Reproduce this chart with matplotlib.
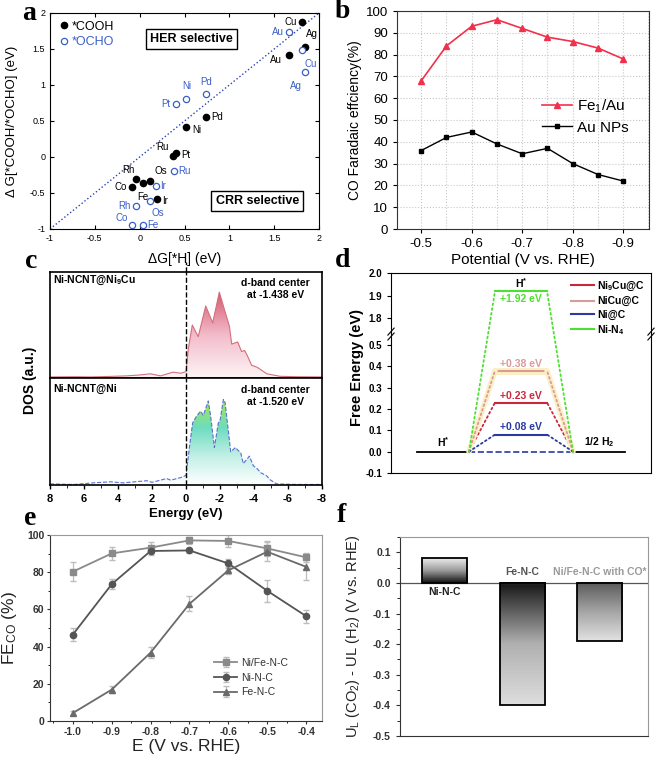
import numpy as np
import matplotlib
matplotlib.use('Agg')
import matplotlib.pyplot as plt
from matplotlib.colors import LinearSegmentedColormap
from matplotlib.patches import Polygon, ConnectionPatch
from matplotlib.lines import Line2D
from matplotlib.ticker import MultipleLocator, FormatStrFormatter

plt.rcParams['font.family'] = ['Liberation Sans', 'DejaVu Sans']
plt.rcParams['axes.unicode_minus'] = False
plt.rcParams['mathtext.default'] = 'regular'

# ---- panel a: scaling relation
cooh_metal = ['Cu', 'Ag', 'Au', 'Pd', 'Ni', 'Ru', 'Pt', 'Rh', 'Os', 'Fe', 'Co', 'Ir']
cooh_h = [1.81, 1.84, 1.66, 0.74, 0.52, 0.37, 0.40, -0.04, 0.12, 0.04, -0.08, 0.19]
cooh_g = [1.87, 1.53, 1.42, 0.56, 0.41, 0.01, 0.05, -0.30, -0.33, -0.36, -0.42, -0.59]
ocho_metal = ['Au', 'Cu', 'Ag', 'Pd', 'Ni', 'Pt', 'Ru', 'Ir', 'Os', 'Rh', 'Co', 'Fe']
ocho_h = [1.67, 1.81, 1.84, 0.74, 0.52, 0.41, 0.38, 0.18, 0.12, -0.04, -0.08, 0.04]
ocho_g = [1.73, 1.49, 1.18, 0.87, 0.81, 0.74, -0.19, -0.40, -0.61, -0.68, -0.95, -0.94]
a_ticks = [-1, -0.5, 0, 0.5, 1, 1.5, 2]
a_ticklabels = ['-1', '-0.5', '0', '0.5', '1', '1.5', '2']

# ---- panel b: CO FE
pot_b = [-0.5, -0.55, -0.6, -0.65, -0.7, -0.75, -0.8, -0.85, -0.9]
fe1_au = [68, 84, 93, 96, 92, 88, 86, 83, 78]
au_nps = [36, 42, 44.5, 39, 34.5, 37, 30, 25, 22]

# ---- panel c: DOS
top_e = [8.0, 6.5, 5.6, 4.5, 3.5, 2.6, 2.1, 1.5, 0.76, 0.3, 0.0, -0.14, -0.37, -0.72, -1.16,
         -1.57, -1.96, -2.29, -2.55, -2.69, -3.04, -3.27, -3.45, -3.61, -3.86, -4.2, -4.75,
         -5.53, -6.5, -8.0]
top_dos = [0.01, 0.012, 0.01, 0.015, 0.02, 0.03, 0.04, 0.02, 0.055, 0.045, 0.06, 0.28, 0.50,
           0.39, 0.68, 0.52, 0.81, 0.63, 0.49, 0.32, 0.34, 0.25, 0.26, 0.21, 0.12, 0.10, 0.04,
           0.016, 0.012, 0.01]
bot_e = [8.0, 6.6, 5.45, 4.47, 3.7, 2.3, 2.0, 1.14, 0.9, 0.3, 0.0, -0.24, -0.39, -0.63, -0.86,
         -1.02, -1.31, -1.45, -1.67, -1.9, -2.0, -2.2, -2.3, -2.63, -2.9, -3.22, -3.37, -3.73,
         -3.96, -4.2, -4.39, -4.75, -4.94, -5.33, -6.5, -8.0]
bot_dos = [0.01, 0.005, 0.02, 0.03, 0.02, 0.04, 0.025, 0.06, 0.045, 0.07, 0.09, 0.40, 0.58,
           0.645, 0.69, 0.65, 0.785, 0.645, 0.35, 0.58, 0.60, 0.80, 0.77, 0.31, 0.35, 0.30,
           0.20, 0.27, 0.18, 0.15, 0.115, 0.085, 0.05, 0.01, 0.005, 0.005]

# ---- panel d: free energy of H*
d_names = ['Ni$_9$Cu@C', 'NiCu@C', 'Ni@C', 'Ni-N$_4$']
d_dg = [0.23, 0.38, 0.08, 1.92]
d_colors = ['#c8283c', '#d99a9a', '#2a3aa0', '#4ee030']

# ---- panel e: FE_CO
pot_e = [-1.0, -0.9, -0.8, -0.7, -0.6, -0.5, -0.4]
nife = [80.3, 90.1, 93.2, 97.1, 96.8, 92.8, 88.0]
nife_err = [5, 3.5, 3, 2, 3, 4, 2.5]
ninc = [46.5, 73.6, 91.4, 91.7, 84.7, 70.0, 56.4]
ninc_err = [3.5, 2.5, 2, 1.5, 2.5, 6, 3.5]
fenc = [4.3, 16.9, 36.8, 63.0, 81.0, 91.0, 82.9]
fenc_err = [1, 2, 3, 4, 2, 5, 7]

# ---- panel f: limiting potential difference
f_cat = ['Ni-N-C', 'Fe-N-C', 'Ni/Fe-N-C with CO*']
f_val = [0.08, -0.40, -0.19]

fig = plt.figure(figsize=(6.56, 7.6), dpi=100)


def fa(l, t, r, b):
    return fig.add_axes([l / 656, 1 - b / 760, (r - l) / 656, (b - t) / 760])


def bold_ticks(ax):
    for lb in ax.get_xticklabels() + ax.get_yticklabels():
        lb.set_fontweight('bold')


# ================= a
ax = fa(50, 13, 319, 229)
ax.plot([-1, 2], [-1, 2], ls=':', color='#2b45b0', lw=1)
ax.plot(cooh_h, cooh_g, 'o', color='black', ms=4.5, label='*COOH')
ax.plot(ocho_h, ocho_g, 'o', mfc='white', mec='#3a5fc8', mew=0.9, ms=4.5, label='*OCHO')
cooh_off = [(-4, 0, 'right'), (5, 9, 'center'), (-5, -4, 'right'), (4, 0, 'left'),
            (4, -2, 'left'), (-3, 7, 'right'), (4, -1, 'left'), (-1, 6, 'right'),
            (3, 7, 'left'), (0, -10, 'center'), (-4, 0, 'right'), (4, -1, 'left')]
ocho_off = [(-4, 0, 'right'), (6, -10, 'center'), (-6, -10, 'center'), (0, 9, 'center'),
            (0, 9, 'center'), (-4, 0, 'right'), (3, 0, 'left'), (3, 0, 'left'),
            (5, -9, 'center'), (-4, 0, 'right'), (-3, 5, 'right'), (3, 0, 'left')]
for m, x, y, (dx, dy, ha) in zip(cooh_metal, cooh_h, cooh_g, cooh_off):
    ax.annotate(m, (x, y), xytext=(dx, dy), textcoords='offset points', ha=ha, va='center',
                fontsize=7, color='black')
for m, x, y, (dx, dy, ha) in zip(ocho_metal, ocho_h, ocho_g, ocho_off):
    ax.annotate(m, (x, y), xytext=(dx, dy), textcoords='offset points', ha=ha, va='center',
                fontsize=7, color='#3a5fc8')
ax.text(0.58, 1.64, 'HER selective', fontweight='bold', fontsize=9, ha='center', va='center',
        bbox=dict(boxstyle='square,pad=0.35', fc='white', ec='black', lw=1))
ax.text(1.31, -0.61, 'CRR selective', fontweight='bold', fontsize=9, ha='center', va='center',
        bbox=dict(boxstyle='square,pad=0.35', fc='white', ec='black', lw=1))
ax.set_xlim(-1, 2)
ax.set_ylim(-1, 2)
ax.set_xticks(a_ticks, a_ticklabels)
ax.set_yticks(a_ticks, a_ticklabels)
ax.tick_params(direction='in', top=True, right=True, labelsize=6.5, length=3)
ax.legend(loc='upper left', frameon=False, fontsize=9, handletextpad=0.1, handlelength=1,
          borderaxespad=0.2, labelspacing=0.3, labelcolor=['black', '#3a5fc8'])
ax.set_xlabel('ΔG[*H] (eV)', fontsize=10)
ax.xaxis.set_label_coords(0.5, -0.105)
ax.set_ylabel('Δ G[*COOH/*OCHO] (eV)', fontsize=9.5)
ax.yaxis.set_label_coords(-0.12, 0.5)

# ================= b
ax = fa(397, 11, 649, 229)
ax.plot(pot_b, fe1_au, '-^', color='#f2304c', ms=4, lw=1.2, label='Fe$_1$/Au')
ax.plot(pot_b, au_nps, '-s', color='black', ms=3.2, lw=1, label='Au NPs')
ax.set_xlim(-0.452, -0.951)
ax.set_ylim(0, 100)
ax.set_xticks([-0.5, -0.6, -0.7, -0.8, -0.9])
ax.xaxis.set_minor_locator(MultipleLocator(0.05))
ax.set_yticks(range(0, 101, 10))
ax.grid(True, which='both', ls=':', color='#c8c8c8', lw=0.8)
ax.tick_params(which='minor', length=0)
ax.tick_params(labelsize=9.5, length=3)
for s in ax.spines.values():
    s.set_color('#333333')
ax.legend(loc='upper left', bbox_to_anchor=(0.52, 0.665), frameon=False, fontsize=11,
          handlelength=2.0, handletextpad=0.3, labelspacing=0.35)
ax.set_xlabel('Potential (V vs. RHE)', fontsize=11)
ax.xaxis.set_label_coords(0.5, -0.11)
ax.set_ylabel('CO Faradaic effciency(%)', fontsize=10)
ax.yaxis.set_label_coords(-0.14, 0.5)

# ================= c
axc_t = fa(50, 272, 322, 378)
axc_b = fa(50, 378, 322, 485)


def dos_panel(ax, e, d, cols, lc, ls):
    cmap = LinearSegmentedColormap.from_list('g', cols)
    im = ax.imshow(np.linspace(0, 1, 256).reshape(-1, 1), cmap=cmap, origin='lower',
                   aspect='auto', extent=[8, -8, 0, max(d)], zorder=1)
    patch = Polygon(np.column_stack([e + [e[-1], e[0]], d + [0, 0]]), closed=True,
                    fc='none', ec='none')
    ax.add_patch(patch)
    im.set_clip_path(patch)
    ax.plot(e, d, color=lc, lw=0.8, ls=ls, zorder=2)
    ax.set_xlim(8, -8)
    ax.set_ylim(0, 1)
    ax.set_yticks([])
    ax.axvline(0, color='black', ls='--', lw=1, zorder=3)
    for s in ax.spines.values():
        s.set_linewidth(1.2)


dos_panel(axc_t, top_e, top_dos, ['#fdf4f6', '#f3bccb', '#d65a70'], '#d4707c', '-')
dos_panel(axc_b, bot_e, bot_dos, ['#ffffff', '#c2f0e6', '#6edcc0', '#a2e84a'], '#5a6fd0', '--')
axc_t.plot([0, 0], [1, 1.09], color='black', ls='--', lw=1, clip_on=False)
axc_t.set_xticks([])
axc_b.set_xticks(range(8, -9, -2))
axc_b.xaxis.set_minor_locator(MultipleLocator(1))
axc_b.tick_params(labelsize=8, length=3, width=1)
axc_b.tick_params(which='minor', length=2)
bold_ticks(axc_b)
axc_t.text(0.012, 0.92, 'Ni-NCNT@Ni$_9$Cu', transform=axc_t.transAxes, fontsize=7.5,
           fontweight='bold', va='center')
axc_t.text(0.83, 0.84, 'd-band center\nat -1.438 eV', transform=axc_t.transAxes, fontsize=7.5,
           fontweight='bold', va='center', ha='center', linespacing=1.3)
axc_b.text(0.012, 0.9, 'Ni-NCNT@Ni', transform=axc_b.transAxes, fontsize=7.5,
           fontweight='bold', va='center')
axc_b.text(0.83, 0.83, 'd-band center\nat -1.520 eV', transform=axc_b.transAxes, fontsize=7.5,
           fontweight='bold', va='center', ha='center', linespacing=1.3)
axc_b.set_xlabel('Energy (eV)', fontsize=9.5, fontweight='bold')
axc_b.xaxis.set_label_coords(0.5, -0.215)
fig.text(30 / 656, 1 - 380 / 760, 'DOS (a.u.)', rotation=90, fontsize=10, fontweight='bold',
         ha='center', va='center')

# ================= d
axd_hi = fa(391, 273, 651, 333)
axd_lo = fa(391, 333, 651, 473)
axd_hi.set_ylim(1.736, 2.0)
axd_lo.set_ylim(-0.1, 0.556)
for a in (axd_hi, axd_lo):
    a.set_xlim(0, 10)
    a.set_xticks([])
    a.yaxis.set_major_formatter(FormatStrFormatter('%.1f'))
    a.tick_params(labelsize=7, length=3)
axd_hi.set_yticks([1.8, 1.9, 2.0])
axd_lo.set_yticks([-0.1, 0.0, 0.1, 0.2, 0.3, 0.4, 0.5])
bold_ticks(axd_hi)
bold_ticks(axd_lo)
axd_hi.spines['bottom'].set_visible(False)
axd_lo.spines['top'].set_visible(False)
axd_lo.plot([1, 3], [0, 0], color='black', lw=1.3)
axd_lo.plot([7, 9], [0, 0], color='black', lw=1.3)
axd_lo.plot([3, 7], [0, 0], color=d_colors[2], ls='--', lw=1.2)
for name, val, col in zip(d_names, d_dg, d_colors):
    tgt = axd_hi if val > 1 else axd_lo
    if name == 'NiCu@C':
        tgt.plot([4, 6], [val, val], color='#fcefc4', lw=5, solid_capstyle='butt')
    tgt.plot([4, 6], [val, val], color=col, lw=1.5)
    for xa, ya, xb, yb in [(3, 0, 4, val), (7, 0, 6, val)]:
        if name == 'NiCu@C':
            fig.add_artist(ConnectionPatch(xyA=(xa, ya), coordsA=axd_lo.transData, xyB=(xb, yb),
                                           coordsB=tgt.transData, color='#fcefc4', lw=4))
        fig.add_artist(ConnectionPatch(xyA=(xa, ya), coordsA=axd_lo.transData, xyB=(xb, yb),
                                       coordsB=tgt.transData, color=col, lw=1.3, ls=':'))
axd_hi.text(5, 1.954, 'H$^{*}$', ha='center', va='center', fontsize=7.5, fontweight='bold')
axd_hi.text(5, 1.885, '+%.2f eV' % d_dg[3], ha='center', va='center', fontsize=7.5,
            fontweight='bold', color=d_colors[3])
axd_lo.text(5, d_dg[1] + 0.03, '+%.2f eV' % d_dg[1], ha='center', va='center', fontsize=7.5,
            fontweight='bold', color=d_colors[1])
axd_lo.text(5, d_dg[0] + 0.03, '+%.2f eV' % d_dg[0], ha='center', va='center', fontsize=7.5,
            fontweight='bold', color=d_colors[0])
axd_lo.text(5, d_dg[2] + 0.035, '+%.2f eV' % d_dg[2], ha='center', va='center', fontsize=7.5,
            fontweight='bold', color=d_colors[2])
axd_lo.text(2, 0.045, 'H$^{*}$', ha='center', va='center', fontsize=7.5, fontweight='bold')
axd_lo.text(8, 0.045, '1/2 H$_2$', ha='center', va='center', fontsize=7.5, fontweight='bold')
for x in (0, 1):
    for off in (-0.035, 0.0):
        axd_lo.plot([x - 0.012, x + 0.012], [1 + off - 0.015, 1 + off + 0.035],
                    transform=axd_lo.transAxes, clip_on=False, color='black', lw=0.8)
handles = [Line2D([], [], color=c, lw=1.5) for c in d_colors]
fig.legend(handles, d_names, loc='upper left', bbox_to_anchor=(571 / 656, 1 - 280 / 760),
           frameon=False, prop={'weight': 'bold', 'size': 7.5}, handlelength=2.2,
           handletextpad=0.3, labelspacing=0.3, borderpad=0, borderaxespad=0)
fig.text(357 / 656, 1 - 367 / 760, 'Free Energy (eV)', rotation=90, fontsize=10.5,
         fontweight='bold', ha='center', va='center')

# ================= e
ax = fa(50, 535, 322, 721)
ax.errorbar(pot_e, nife, yerr=nife_err, fmt='-s', color='#8a8a8a', ecolor='#bdbdbd', ms=4.5,
            lw=1.3, capsize=2, elinewidth=0.9, label='Ni/Fe-N-C')
ax.errorbar(pot_e, ninc, yerr=ninc_err, fmt='-o', color='#555555', ecolor='#bdbdbd', ms=4.5,
            lw=1.3, capsize=2, elinewidth=0.9, label='Ni-N-C')
ax.errorbar(pot_e, fenc, yerr=fenc_err, fmt='-^', color='#6a6a6a', ecolor='#bdbdbd', ms=4.5,
            lw=1.3, capsize=2, elinewidth=0.9, label='Fe-N-C')
ax.set_xlim(-1.059, -0.359)
ax.set_ylim(0, 100)
ax.set_xticks(pot_e)
ax.xaxis.set_major_formatter(FormatStrFormatter('%.1f'))
ax.xaxis.set_minor_locator(MultipleLocator(0.05))
ax.set_yticks(range(0, 101, 20))
ax.yaxis.set_minor_locator(MultipleLocator(10))
ax.tick_params(labelsize=7.5, length=2.5, pad=1.5, colors='#333333')
ax.tick_params(which='minor', length=1.5)
bold_ticks(ax)
ax.spines['left'].set_color('#333333')
ax.spines['bottom'].set_color('#333333')
ax.spines['top'].set_color('#999999')
ax.spines['right'].set_color('#999999')
ax.legend(loc='upper left', bbox_to_anchor=(0.57, 0.39), frameon=False, fontsize=7.5,
          handlelength=2.2, handletextpad=0.4, labelspacing=0.45, labelcolor='#333333')
ax.set_xlabel('E (V vs. RHE)', fontsize=12.5, color='#222222')
ax.xaxis.set_label_coords(0.5, -0.095)
ax.set_ylabel('FE$_{CO}$ (%)', fontsize=12.5, color='#222222')
ax.yaxis.set_label_coords(-0.115, 0.5)

# ================= f
ax = fa(400, 537, 648, 736)
f_x = np.arange(1, len(f_val) + 1)
bar_w = 0.58
bar_cols = [['#111111', '#9a9a9a', '#ededed'],
            ['#dedede', '#b0b0b0', '#151515'],
            ['#e2e2e2', '#a5a5a5', '#5a5a5a']]
for x, v, cols in zip(f_x, f_val, bar_cols):
    cmap = LinearSegmentedColormap.from_list('b', cols)
    ax.imshow(np.linspace(0, 1, 256).reshape(-1, 1), cmap=cmap, origin='lower', aspect='auto',
              extent=[x - bar_w / 2, x + bar_w / 2, min(0, v), max(0, v)], zorder=1)
ax.bar(f_x, f_val, width=bar_w, fill=False, edgecolor='black', lw=1.3, zorder=3)
ax.axhline(0, color='#555555', lw=0.9, zorder=2)
ax.set_xlim(0.43, 3.62)
ax.set_ylim(-0.5, 0.15)
ax.set_xticks([])
ax.set_yticks([0.1, 0.0, -0.1, -0.2, -0.3, -0.4, -0.5])
ax.yaxis.set_major_formatter(FormatStrFormatter('%.1f'))
ax.yaxis.set_minor_locator(MultipleLocator(0.05))
ax.tick_params(labelsize=7.5, length=3, colors='#333333')
ax.tick_params(which='minor', length=2)
bold_ticks(ax)
ax.spines['left'].set_color('#333333')
ax.spines['bottom'].set_color('#333333')
ax.spines['top'].set_color('#999999')
ax.spines['right'].set_color('#999999')
ax.text(f_x[0], -0.03, f_cat[0], ha='center', va='center', fontsize=7.5, fontweight='bold',
        color='#222222')
ax.text(f_x[1], 0.035, f_cat[1], ha='center', va='center', fontsize=7.5, fontweight='bold',
        color='#555555')
ax.text(f_x[2], 0.035, f_cat[2], ha='center', va='center', fontsize=7.5, fontweight='bold',
        color='#9a9a9a')
ax.set_ylabel('U$_L$ (CO$_2$) - UL (H$_2$) (V vs. RHE)', fontsize=10.5, color='#222222')
ax.yaxis.set_label_coords(-0.155, 0.5)

# panel letters
for lt, x, y in [('a', 22, 20), ('b', 335, 18), ('c', 25, 268), ('d', 335, 267),
                 ('e', 24, 525), ('f', 337, 522)]:
    fig.text(x / 656, 1 - y / 760, lt, fontsize=20, fontweight='bold',
             family='Liberation Serif', va='baseline')

fig.savefig('out.png', dpi=100)
